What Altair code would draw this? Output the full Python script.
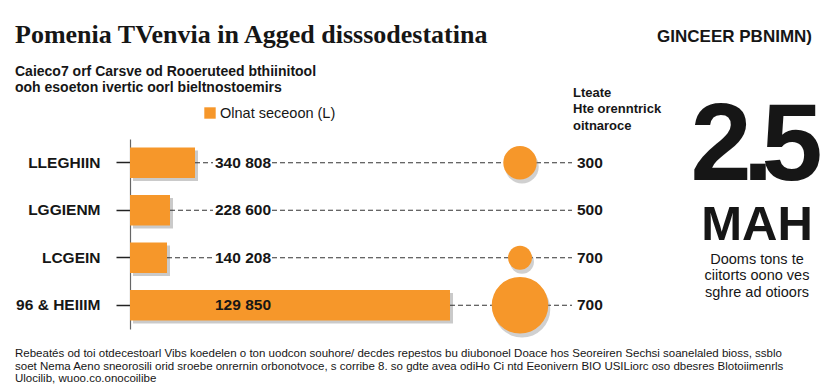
import altair as alt
import pandas as pd

# ---- data ----
categories = ["LLEGHIIN", "LGGIENM", "LCGEIN", "96 & HEIIIM"]
bar_values = [65, 40, 37, 320]
bar_labels = ["340 808", "228 600", "140 208", "129 850"]
right_labels = ["300", "500", "700", "700"]
bubble_values = [350, 0, 180, 1000]

ORANGE = "#F6972A"
INK = "#161616"
NARROW = "Liberation Sans, Arial, Helvetica"
SANS = "Liberation Sans, Arial, Helvetica"

# layout constants (plot units = px from the axis)
LABEL_X = 85
LABEL_END = 142
LINE_END = 442
RIGHT_X = 445
BUBBLE_X = 390

df = pd.DataFrame({
    "cat": categories,
    "bar": bar_values,
    "label": bar_labels,
    "right": right_labels,
    "bubble": bubble_values,
})
df["label_x"] = LABEL_X
df["right_x"] = RIGHT_X
df["bubble_x"] = BUBBLE_X

seg = []
for c, b in zip(categories, bar_values):
    if b < LABEL_X - 2:
        seg.append({"cat": c, "x1": b, "x2": LABEL_X - 2})
    seg.append({"cat": c, "x1": max(b, LABEL_END), "x2": LINE_END})
seg_df = pd.DataFrame(seg)

xscale = alt.Scale(domain=[0, 470], nice=False, zero=True)
yscale = alt.Scale(domain=categories, paddingInner=0.36, paddingOuter=0.18)

yaxis = alt.Axis(title=None, tickSize=14, tickWidth=1.5, tickColor="#222",
                 domainColor="#666", domainWidth=1.2, labelPadding=16,
                 labelFont=NARROW, labelFontSize=15.5, labelFontWeight="bold",
                 labelColor=INK)
yenc = alt.Y("cat:N", sort=categories, scale=yscale, axis=yaxis)

base = alt.Chart(df)

bar_shadow = base.mark_bar(color="#8a8a8a", opacity=0.45, xOffset=3, yOffset=3).encode(
    x=alt.X("bar:Q", scale=xscale, axis=None), y=yenc)
bars = base.mark_bar(color=ORANGE).encode(
    x=alt.X("bar:Q", scale=xscale, axis=None), y=yenc)

rules = alt.Chart(seg_df).mark_rule(color="#333", strokeWidth=1, strokeDash=[5, 3]).encode(
    x=alt.X("x1:Q", scale=xscale, axis=None), x2="x2:Q", y=yenc)

bub = base.transform_filter("datum.bubble > 0")
size_scale = alt.Scale(domain=[0, 1000], range=[0, 3200])
bubble_shadow = bub.mark_circle(color="#777", opacity=0.35, xOffset=2, yOffset=4).encode(
    x=alt.X("bubble_x:Q", scale=xscale, axis=None), y=yenc,
    size=alt.Size("bubble:Q", scale=size_scale, legend=None))
bubbles = bub.mark_circle(color=ORANGE, opacity=1).encode(
    x=alt.X("bubble_x:Q", scale=xscale, axis=None), y=yenc,
    size=alt.Size("bubble:Q", scale=size_scale, legend=None))

val_text = base.mark_text(align="left", baseline="middle", font=NARROW, fontSize=15.5,
                          fontWeight="bold", color=INK).encode(
    x=alt.X("label_x:Q", scale=xscale, axis=None), y=yenc, text="label:N")
right_text = base.mark_text(align="left", baseline="middle", font=NARROW, fontSize=15.5,
                            fontWeight="bold", color=INK, dx=2).encode(
    x=alt.X("right_x:Q", scale=xscale, axis=None), y=yenc, text="right:N")

OX, OY = 130, 139  # plot origin on the page


def txt(s, px, py, size, font=SANS, weight="normal", align="left", color=INK):
    return alt.Chart(pd.DataFrame({"t": [s]})).mark_text(
        align=align, baseline="alphabetic", font=font, fontSize=size,
        fontWeight=weight, color=color).encode(
        text="t:N", x=alt.value(px - OX), y=alt.value(py - OY))


annots = [
    txt("Pomenia TVenvia in Agged disssodestatina", 15, 43, 26,
        font="Liberation Serif, DejaVu Serif", weight="bold"),
    txt("Caieco7 orf Carsve od Rooeruteed bthiinitool", 15, 76, 14, weight="bold"),
    txt("ooh esoeton ivertic oorl bieltnostoemirs", 15, 92, 14, weight="bold"),
    txt("GINCEER PBNIMN)", 812, 42, 17, weight="bold", align="right"),
    txt("Olnat seceoon (L)", 220, 118, 14.5),
    txt("Lteate", 573, 97, 13, weight="bold"),
    txt("Hte orenntrick", 573, 113, 13, weight="bold"),
    txt("oitnaroce", 573, 130, 13, weight="bold"),
    txt("2", 721, 180, 110, font=NARROW, weight="bold", align="center"),
    txt(".", 758, 180, 110, font=NARROW, weight="bold", align="center"),
    txt("5", 792, 180, 110, font=NARROW, weight="bold", align="center"),
    txt("MAH", 757, 240, 49, weight="bold", align="center"),
    txt("Dooms tons te", 757, 264, 14.5, align="center"),
    txt("ciitorts oono ves", 757, 280, 14.5, align="center"),
    txt("sghre ad otioors", 757, 297, 14.5, align="center"),
    txt("Rebeatés od toi otdecestoarl Vibs koedelen o ton uodcon souhore/ decdes repestos bu diubonoel "
        "Doace hos Seoreiren Sechsi soanelaled bioss, ssblo", 15, 357, 11.5),
    txt("soet Nema Aeno sneorosili orid sroebe onrernin orbonotvoce, s corribe 8. so gdte avea odiHo Ci "
        "ntd Eeonivern BIO USILiorc oso dbesres Blotoiimenrls", 15, 370, 11.5),
    txt("Ulocilib, wuoo.co.onocoilibe", 15, 382, 11.5),
]

legend_sq = alt.Chart(pd.DataFrame({"k": ["Olnat seceoon (L)"]})).mark_square(
    color=ORANGE, opacity=1, size=130).encode(
    x=alt.value(210 - OX), y=alt.value(113 - OY))

chart = alt.layer(bar_shadow, bars, rules, bubble_shadow, bubbles, val_text, right_text,
                  legend_sq, *annots).properties(
    width=470, height=190,
    autosize=alt.AutoSizeParams(type="none"),
    padding={"left": 122, "top": 131, "right": 224, "bottom": 55},
).configure(background="white").configure_view(stroke=None)

chart.save("out.html", embed_options={"renderer": "svg", "actions": False})
